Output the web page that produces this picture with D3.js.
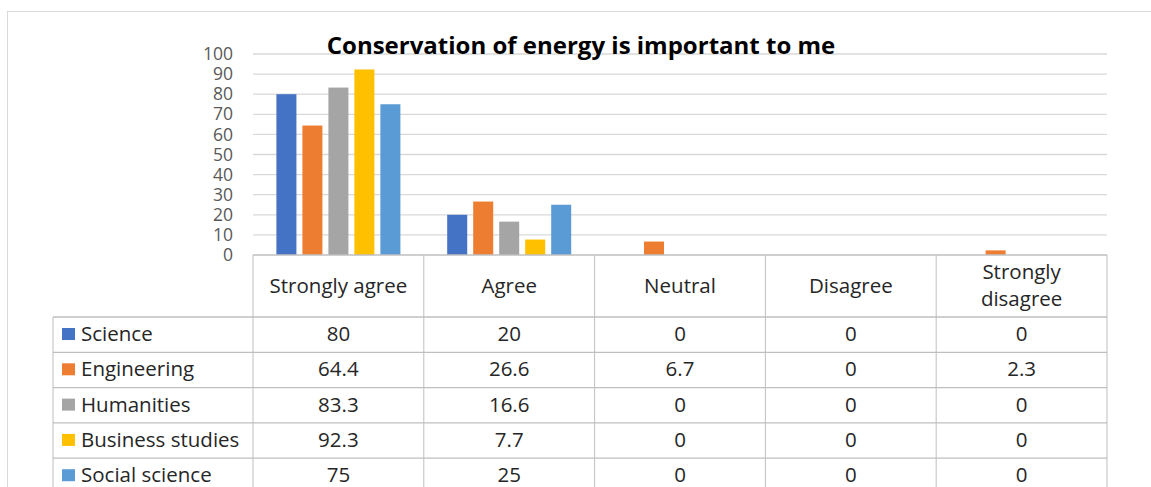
<!DOCTYPE html>
<html>
<head>
<meta charset="utf-8">
<script src="https://cdn.jsdelivr.net/npm/d3@7"></script>
<style>
    html, body { margin: 0; padding: 0; background: #fff; }
    svg { display: block; font-family: "Open Sans", "Noto Sans", sans-serif; }
</style>
</head>
<body>
<svg id="chart" width="1151" height="487"></svg>
<script>
const categories = ["Strongly agree", "Agree", "Neutral", "Disagree", "Strongly disagree"];
const seriesNames = ["Science", "Engineering", "Humanities", "Business studies", "Social science"];
const seriesColors = ["#4472c4", "#ed7d31", "#a5a5a5", "#ffc000", "#5b9bd5"];
const science = [80, 20, 0, 0, 0];
const engineering = [64.4, 26.6, 6.7, 0, 2.3];
const humanities = [83.3, 16.6, 0, 0, 0];
const businessStudies = [92.3, 7.7, 0, 0, 0];
const socialScience = [75, 25, 0, 0, 0];
const yTicks = [0, 10, 20, 30, 40, 50, 60, 70, 80, 90, 100];
const title = "Conservation of energy is important to me";

(function () {
    const W = 1151, H = 487;
    const plot = { left: 253, right: 1107, top: 54, bottom: 255 };
    const table = { left: 53, headerBottom: 317, rowH: 35.3 };
    const seriesValues = [science, engineering, humanities, businessStudies, socialScience];
    const tableFont = 20.5;

    const series = seriesNames.map((name, i) => ({
        name,
        color: seriesColors[i],
        values: seriesValues[i],
    }));

    const svg = d3.select("#chart").attr("viewBox", `0 0 ${W} ${H}`);

    // chart area frame (right and bottom edges are cropped off)
    svg.append("rect")
        .attr("x", 7.5).attr("y", 11.5)
        .attr("width", 1160).attr("height", 500)
        .attr("fill", "#fff")
        .attr("stroke", "#d9d9d9")
        .attr("stroke-width", 1);

    const x = d3.scaleBand()
        .domain(categories)
        .range([plot.left, plot.right])
        .padding(0);

    const xInner = d3.scaleBand()
        .domain(seriesNames)
        .range([0, x.bandwidth()])
        .paddingInner(0.23)
        .paddingOuter(0.9);

    const y = d3.scaleLinear()
        .domain([0, 100])
        .range([plot.bottom, plot.top]);

    // gridlines
    svg.append("g").attr("class", "grid")
        .selectAll("line")
        .data(yTicks.filter(t => t > 0))
        .join("line")
        .attr("x1", plot.left).attr("x2", plot.right)
        .attr("y1", d => y(d)).attr("y2", d => y(d))
        .attr("stroke", "#d9d9d9")
        .attr("stroke-width", 1.3);

    // y axis labels
    const yAxis = d3.axisLeft(y).tickValues(yTicks).tickSize(0).tickPadding(0);
    const yg = svg.append("g")
        .attr("transform", `translate(${plot.left - 20},0)`)
        .call(yAxis);
    yg.select(".domain").remove();
    yg.selectAll("text")
        .attr("font-family", "Open Sans, sans-serif")
        .attr("font-size", 17.5)
        .attr("fill", "#595959");

    // bars
    svg.append("g").attr("class", "bars")
        .selectAll("g")
        .data(series)
        .join("g")
        .attr("fill", d => d.color)
        .selectAll("rect")
        .data(d => d.values.map((v, i) => ({ name: d.name, cat: categories[i], v })))
        .join("rect")
        .attr("x", d => x(d.cat) + xInner(d.name))
        .attr("width", xInner.bandwidth())
        .attr("y", d => y(d.v))
        .attr("height", d => y(0) - y(d.v));

    // title
    svg.append("text")
        .attr("x", 581).attr("y", 54)
        .attr("text-anchor", "middle")
        .attr("font-size", 24)
        .attr("font-weight", "bold")
        .attr("fill", "#000")
        .text(title);

    // data table
    const tg = svg.append("g").attr("class", "table");
    const lineColor = "#bfbfbf";
    const rowTop = i => table.headerBottom + i * table.rowH;
    const bottomY = H + 10;

    // header top line (plot baseline) and vertical cell edges
    tg.append("line")
        .attr("x1", plot.left).attr("x2", plot.right)
        .attr("y1", plot.bottom).attr("y2", plot.bottom)
        .attr("stroke", lineColor).attr("stroke-width", 1.3);

    const edges = categories.map(c => x(c)).concat([plot.right]);
    tg.selectAll("line.v")
        .data(edges)
        .join("line")
        .attr("class", "v")
        .attr("x1", d => d).attr("x2", d => d)
        .attr("y1", plot.bottom).attr("y2", bottomY)
        .attr("stroke", lineColor).attr("stroke-width", 1);

    tg.append("line")
        .attr("x1", table.left).attr("x2", table.left)
        .attr("y1", table.headerBottom).attr("y2", bottomY)
        .attr("stroke", lineColor).attr("stroke-width", 1);

    tg.selectAll("line.h")
        .data(series.map((s, i) => i))
        .join("line")
        .attr("class", "h")
        .attr("x1", table.left).attr("x2", plot.right)
        .attr("y1", d => rowTop(d)).attr("y2", d => rowTop(d))
        .attr("stroke", lineColor).attr("stroke-width", 1.3);

    // header labels, wrapped when wider than the cell
    const header = tg.selectAll("text.head")
        .data(categories)
        .join("text")
        .attr("class", "head")
        .attr("text-anchor", "middle")
        .attr("font-size", tableFont)
        .attr("fill", "#262626")
        .attr("x", d => x(d) + x.bandwidth() / 2);
    header.each(function (d) {
        const t = d3.select(this);
        t.text(d);
        const midY = (plot.bottom + table.headerBottom) / 2;
        if (this.getComputedTextLength() > x.bandwidth() - 16) {
            const words = d.split(" ");
            t.text(null);
            words.forEach((w, i) => {
                t.append("tspan")
                    .attr("x", x(d) + x.bandwidth() / 2)
                    .attr("y", midY + 6.5 + (i - (words.length - 1) / 2) * 27)
                    .text(w);
            });
        } else {
            t.attr("y", midY + 6.5);
        }
    });

    // rows: legend key + values
    const rows = tg.selectAll("g.row")
        .data(series)
        .join("g")
        .attr("class", "row")
        .attr("transform", (d, i) => `translate(0,${rowTop(i)})`);

    rows.append("rect")
        .attr("x", 62).attr("y", 11)
        .attr("width", 13).attr("height", 12)
        .attr("fill", d => d.color);

    rows.append("text")
        .attr("x", 81).attr("y", table.rowH / 2 + 6.5)
        .attr("font-size", tableFont)
        .attr("fill", "#262626")
        .text(d => d.name);

    rows.selectAll("text.val")
        .data(d => d.values.map((v, i) => ({ cat: categories[i], v })))
        .join("text")
        .attr("class", "val")
        .attr("x", d => x(d.cat) + x.bandwidth() / 2)
        .attr("y", table.rowH / 2 + 6.5)
        .attr("text-anchor", "middle")
        .attr("font-size", tableFont)
        .attr("fill", "#262626")
        .text(d => String(d.v));
})();
</script>
</body>
</html>
